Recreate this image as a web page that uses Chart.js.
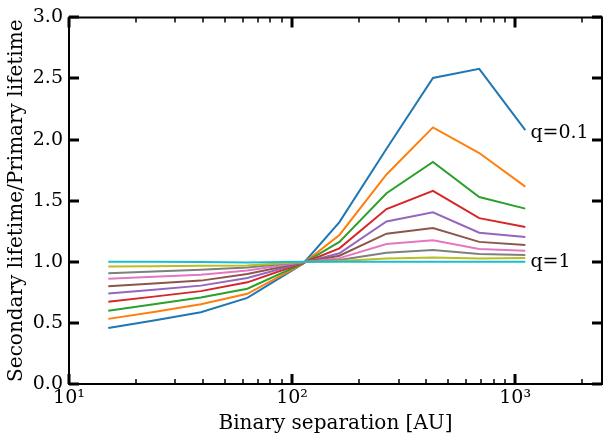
<!DOCTYPE html>
<html>
<head>
<meta charset="utf-8">
<script src="https://cdn.jsdelivr.net/npm/chart.js@4"></script>
<style>
  body { margin: 0; background: #fff; }
</style>
</head>
<body>
<canvas id="chart" width="604" height="439"></canvas>
<script>
// binary separation [AU] of each model
const separations = [15, 24, 39, 63, 112, 163, 265, 428, 690, 1110];

// secondary / primary lifetime, q = 0.1 ... q = 1
const q01 = [0.458, 0.52, 0.587, 0.705, 0.985, 1.325, 1.925, 2.504, 2.579, 2.078];
const q02 = [0.533, 0.59, 0.652, 0.738, 0.985, 1.22, 1.715, 2.10, 1.89, 1.615];
const q03 = [0.60, 0.652, 0.708, 0.78, 0.987, 1.163, 1.561, 1.817, 1.530, 1.435];
const q04 = [0.673, 0.715, 0.76, 0.832, 0.99, 1.11, 1.432, 1.58, 1.357, 1.284];
const q05 = [0.74, 0.771, 0.805, 0.867, 0.992, 1.07, 1.33, 1.405, 1.238, 1.202];
const q06 = [0.80, 0.822, 0.846, 0.90, 0.994, 1.05, 1.23, 1.276, 1.163, 1.137];
const q07 = [0.862, 0.877, 0.894, 0.929, 0.996, 1.03, 1.145, 1.177, 1.104, 1.091];
const q08 = [0.907, 0.92, 0.934, 0.953, 0.998, 1.015, 1.074, 1.096, 1.064, 1.055];
const q09 = [0.961, 0.963, 0.967, 0.97, 0.999, 1.007, 1.028, 1.036, 1.028, 1.031];
const q10 = [1.0, 1.0, 0.998, 0.995, 1.0, 1.0, 1.0, 1.0, 1.0, 1.0];

const seriesValues = [q01, q02, q03, q04, q05, q06, q07, q08, q09, q10];
const colors = ["#1f77b4", "#ff7f0e", "#2ca02c", "#d62728", "#9467bd",
                "#8c564b", "#e377c2", "#7f7f7f", "#bcbd22", "#17becf"];

const xTickValues = [10, 100, 1000];
const xTickLabels = ["10\u00b9", "10\u00b2", "10\u00b3"];
const yTickValues = [0, 0.5, 1.0, 1.5, 2.0, 2.5, 3.0];

// text labels at data coordinates
const notes = [
  { text: "q=0.1", x: 1170, y: 2.05 },
  { text: "q=1", x: 1170, y: 1.0 }
];

const datasets = seriesValues.map((vals, i) => ({
  data: vals.map((v, j) => ({ x: separations[j], y: v })),
  borderColor: colors[i],
  borderWidth: 2,
  pointRadius: 0,
  fill: false,
  tension: 0,
  order: seriesValues.length - 1 - i
}));

// inward ticks on all four sides, frame, and the q labels
const framePlugin = {
  id: "frame",
  afterDraw(chart) {
    const ctx = chart.ctx;
    const a = chart.chartArea;
    const xs = chart.scales.x;
    const ys = chart.scales.y;
    ctx.save();
    ctx.strokeStyle = "#000000";
    ctx.lineCap = "butt";

    // frame
    ctx.lineWidth = 2;
    ctx.beginPath();
    ctx.moveTo(a.left, a.top); ctx.lineTo(a.right, a.top);
    ctx.lineTo(a.right, a.bottom); ctx.lineTo(a.left, a.bottom);
    ctx.closePath();
    ctx.stroke();

    // x minor ticks, bottom and top
    ctx.lineWidth = 1.5;
    ctx.beginPath();
    for (let e = 1; e <= 3; e++) {
      for (let m = 2; m <= 9; m++) {
        const v = m * Math.pow(10, e);
        if (v >= xs.max) continue;
        const px = Math.round(xs.getPixelForValue(v));
        ctx.moveTo(px, a.bottom); ctx.lineTo(px, a.bottom - 5);
        ctx.moveTo(px, a.top); ctx.lineTo(px, a.top + 5);
      }
    }
    ctx.stroke();

    // major ticks on all sides
    ctx.lineWidth = 3;
    ctx.beginPath();
    xTickValues.forEach(v => {
      const px = Math.round(xs.getPixelForValue(v));
      ctx.moveTo(px, a.bottom); ctx.lineTo(px, a.bottom - 10);
      ctx.moveTo(px, a.top); ctx.lineTo(px, a.top + 10);
    });
    yTickValues.forEach(v => {
      const py = Math.round(ys.getPixelForValue(v));
      ctx.moveTo(a.left, py); ctx.lineTo(a.left + 10, py);
      ctx.moveTo(a.right, py); ctx.lineTo(a.right - 10, py);
    });
    ctx.stroke();

    // annotations
    ctx.fillStyle = "#000";
    ctx.font = "19px 'DejaVu Serif'";
    ctx.textAlign = "left";
    ctx.textBaseline = "middle";
    notes.forEach(n => {
      ctx.fillText(n.text, xs.getPixelForValue(n.x), ys.getPixelForValue(n.y));
    });
    ctx.restore();
  }
};

new Chart(document.getElementById("chart"), {
  type: "line",
  data: { datasets: datasets },
  options: {
    responsive: false,
    animation: false,
    devicePixelRatio: 1,
    layout: { padding: { top: 12, right: 2, bottom: 0, left: 0 } },
    plugins: { legend: { display: false }, tooltip: { enabled: false } },
    scales: {
      x: {
        type: "logarithmic",
        min: 10,
        max: 2450,
        grid: { display: false, drawTicks: false },
        border: { display: false },
        afterBuildTicks: s => { s.ticks = xTickValues.map(v => ({ value: v })); },
        afterFit: s => { s.height = 55; },
        ticks: {
          autoSkip: false,
          maxRotation: 0,
          padding: 3,
          color: "#000",
          font: { family: "DejaVu Serif", size: 19 },
          callback: v => xTickLabels[xTickValues.indexOf(v)] || ""
        },
        title: {
          display: true,
          text: "Binary separation [AU]",
          color: "#000",
          font: { family: "DejaVu Serif", size: 20 },
          padding: { top: 0, bottom: 3 }
        }
      },
      y: {
        type: "linear",
        min: 0,
        max: 3,
        grid: { display: false, drawTicks: false },
        border: { display: false },
        afterBuildTicks: s => { s.ticks = yTickValues.map(v => ({ value: v })); },
        afterFit: s => { s.width = 69; },
        ticks: {
          padding: 6,
          color: "#000",
          font: { family: "DejaVu Serif", size: 19 },
          callback: v => v.toFixed(1)
        },
        title: {
          display: true,
          text: "Secondary lifetime/Primary lifetime",
          color: "#000",
          font: { family: "DejaVu Serif", size: 20 },
          padding: { top: 5, bottom: 0 }
        }
      }
    }
  },
  plugins: [framePlugin]
});
</script>
</body>
</html>
